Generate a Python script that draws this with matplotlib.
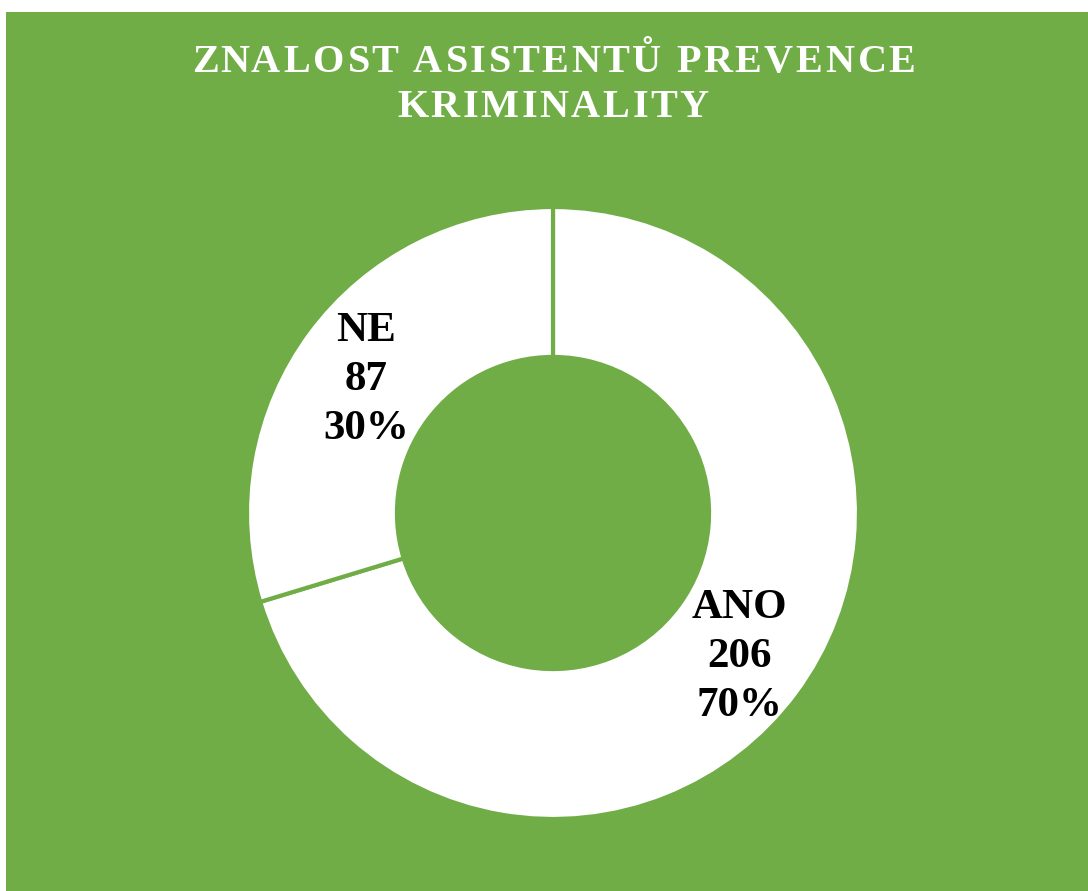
import numpy as np
import matplotlib.pyplot as plt
from matplotlib import font_manager, ft2font
from matplotlib.font_manager import FontProperties

# data
labels = ['ANO', 'NE']
counts = [206, 87]
title_lines = ['ZNALOST ASISTENTŮ PREVENCE', 'KRIMINALITY']

green = '#70AD47'
font = 'Liberation Serif'
W, H = 1088, 891

fig = plt.figure(figsize=(W / 100, H / 100), dpi=100)
fig.patch.set_facecolor('white')

# green chart area, thin white margin on top and left
bg = fig.add_axes([6 / W, 0, 1 - 6 / W, 1 - 12 / H])
bg.set_facecolor(green)
bg.set_xticks([])
bg.set_yticks([])
for s in bg.spines.values():
    s.set_visible(False)

ax = fig.add_axes([247 / W, 72 / H, 612 / W, 612 / H])
ax.set_facecolor('none')

wedges, _ = ax.pie(counts, startangle=90, counterclock=False, radius=1.0,
                   colors=['white', 'white'],
                   wedgeprops=dict(width=0.49, edgecolor=green, linewidth=3))

total = sum(counts)
for w, lab, c in zip(wedges, labels, counts):
    ang = np.deg2rad((w.theta1 + w.theta2) / 2)
    r = 0.76
    pct = round(100 * c / total)
    ax.text(r * np.cos(ang), r * np.sin(ang) - 0.017, f'{lab}\n{c}\n{pct}%',
            ha='center', va='center', fontsize=31, fontweight='bold',
            family=font, color='black', linespacing=1.38)

ax.set_xlim(-1, 1)
ax.set_ylim(-1, 1)
ax.set_aspect('equal')
ax.axis('off')

# title with letter spacing, drawn char by char using glyph advances
fsize = 29
prop = FontProperties(family=font, weight='bold', size=fsize)
ftf = ft2font.FT2Font(font_manager.findfont(prop))
ftf.set_size(fsize, 100)
try:
    no_hint = ft2font.LoadFlags.NO_HINTING
except AttributeError:
    no_hint = ft2font.LOAD_NO_HINTING


def glyph_metrics(ch):
    g = ftf.load_char(ord(ch), flags=no_hint)
    return g.linearHoriAdvance / 65536, g.horiBearingX / 64


spacing = 2.5
for line, base_y in zip(title_lines, [72, 117]):
    metrics = [glyph_metrics(ch) for ch in line]
    total_w = sum(m[0] for m in metrics) + spacing * (len(line) - 1)
    pen = 552 - total_w / 2
    for ch, (adv, lsb) in zip(line, metrics):
        if ch != ' ':
            fig.text((pen + lsb) / W, 1 - base_y / H, ch, ha='left',
                     va='baseline', fontproperties=prop, color='white')
        pen += adv + spacing

fig.savefig('out.png', dpi=100, facecolor=fig.get_facecolor())
